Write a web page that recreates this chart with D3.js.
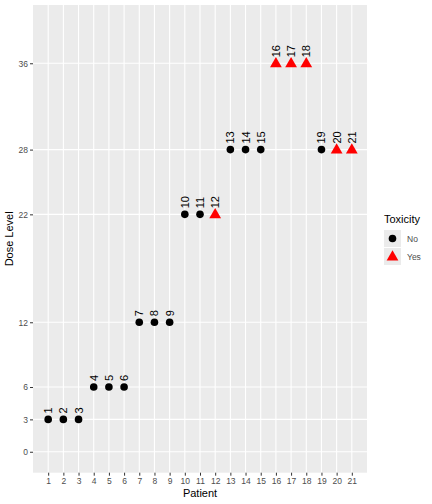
<!DOCTYPE html>
<html><head><meta charset="utf-8">
<script src="https://cdn.jsdelivr.net/npm/d3@7"></script>
<style>body{margin:0;background:#fff;font-family:"Liberation Sans",Arial,sans-serif}</style>
</head><body><svg id="c" width="432" height="504"></svg>
<script>
const patients = d3.range(1, 22);
const dose = [3,3,3,6,6,6,12,12,12,22,22,22,28,28,28,36,36,36,28,28,28];
const toxic = ["No","No","No","No","No","No","No","No","No","No","No","Yes","No","No","No","Yes","Yes","Yes","No","Yes","Yes"];
const yBreaks = [0,3,6,12,22,28,36];

const svg = d3.select('#c');
const L = 33, R = 367, T = 5, B = 472.7;
const x = d3.scaleLinear().domain([0, 22]).range([L, R]);
const y = d3.scaleLinear().domain([-1.94, 41.4]).range([B, T]);

svg.append('rect').attr('x', L).attr('y', T).attr('width', R - L).attr('height', B - T).attr('fill', '#ebebeb');
const g = svg.append('g');
g.selectAll('.gy').data(yBreaks).join('line')
  .attr('x1', L).attr('x2', R).attr('y1', d => y(d)).attr('y2', d => y(d))
  .attr('stroke', '#fff').attr('stroke-width', 1.1);
g.selectAll('.gx').data(patients).join('line')
  .attr('y1', T).attr('y2', B).attr('x1', d => x(d)).attr('x2', d => x(d))
  .attr('stroke', '#fff').attr('stroke-width', 1.1);

// axes
const ax = svg.append('g').attr('transform', `translate(0,${B})`)
  .call(d3.axisBottom(x).tickValues(patients).tickSize(3).tickPadding(2));
const ay = svg.append('g').attr('transform', `translate(${L},0)`)
  .call(d3.axisLeft(y).tickValues(yBreaks).tickSize(3).tickPadding(2));
[ax, ay].forEach(a => {
  a.select('.domain').remove();
  a.selectAll('line').attr('stroke', '#333');
  a.selectAll('text').attr('fill', '#4d4d4d').style('font-size', '8.5px').style('font-family', '"Liberation Sans",Arial,sans-serif');
});

const data = patients.map((p, i) => ({p, d: dose[i], t: toxic[i]}));
const tri = d3.symbol().type(d3.symbolTriangle).size(60);
data.forEach(o => {
  if (o.t === 'No') {
    svg.append('circle').attr('cx', x(o.p)).attr('cy', y(o.d)).attr('r', 3.8).attr('fill', '#000');
  } else {
    svg.append('path').attr('d', tri).attr('transform', `translate(${x(o.p)},${y(o.d) + 0.5})`).attr('fill', '#f00');
  }
  svg.append('text').attr('transform', `translate(${x(o.p) + 4},${y(o.d) - 6}) rotate(-90)`)
    .style('font-size', '11px').attr('fill', '#000').text(o.p);
});

svg.append('text').attr('x', (L + R) / 2).attr('y', 497).attr('text-anchor', 'middle')
  .style('font-size', '11px').text('Patient');
svg.append('text').attr('transform', `translate(13,${(T + B) / 2}) rotate(-90)`).attr('text-anchor', 'middle')
  .style('font-size', '11px').text('Dose Level');

// legend
const lg = svg.append('g').attr('transform', 'translate(384,0)');
lg.append('text').attr('x', 0).attr('y', 223).style('font-size', '11px').text('Toxicity');
['No', 'Yes'].forEach((k, i) => {
  const yy = 230 + i * 18;
  lg.append('rect').attr('x', 0).attr('y', yy).attr('width', 17).attr('height', 17).attr('fill', '#ebebeb');
  if (k === 'No') lg.append('circle').attr('cx', 8.5).attr('cy', yy + 8.5).attr('r', 3.8).attr('fill', '#000');
  else lg.append('path').attr('d', tri).attr('transform', `translate(8.5,${yy + 9})`).attr('fill', '#f00');
  lg.append('text').attr('x', 23).attr('y', yy + 11.5).style('font-size', '8.5px').attr('fill', '#4d4d4d').text(k);
});
</script></body></html>
